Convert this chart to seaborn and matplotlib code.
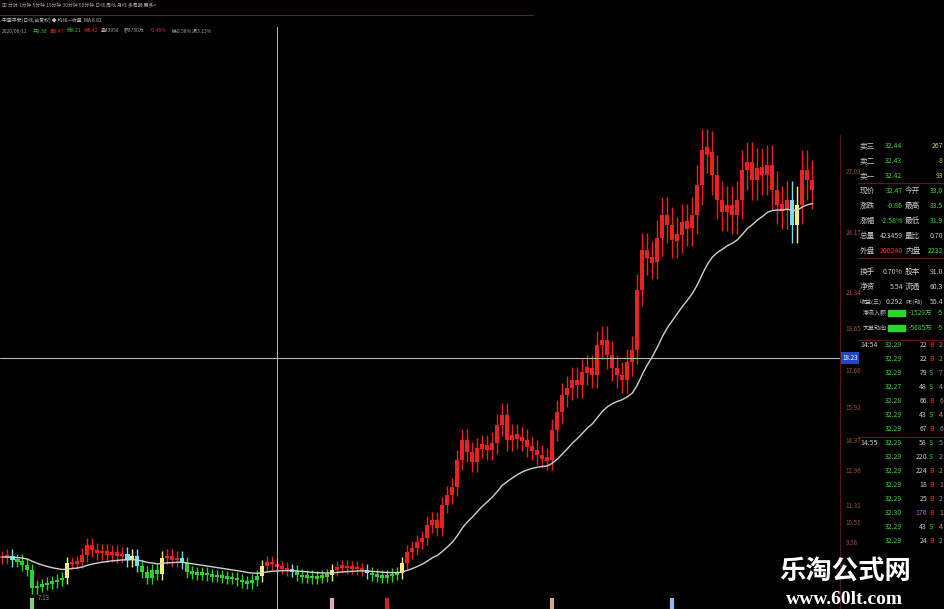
import numpy as np
import pandas as pd
import matplotlib
matplotlib.use("Agg")
import matplotlib.pyplot as plt
from matplotlib.lines import Line2D
import seaborn as sns

# daily closes, left to right
closes = [8.85, 8.90, 8.71, 8.67, 8.48, 8.24,
          7.39, 7.49, 7.54, 7.63, 7.68, 7.77, 7.86,
          8.57, 8.57, 8.62, 8.95, 9.42, 9.18, 9.04,
          9.14, 8.95, 9.09, 8.90, 9.00, 8.71, 8.90, 8.43,
          8.15, 7.86, 8.24, 8.06, 8.81,
          8.90, 8.71, 8.81, 8.57,
          8.15, 8.10, 8.06, 8.10, 8.01, 7.96, 7.96, 7.91, 7.86, 7.86, 7.77, 7.68, 7.63, 7.77, 7.96,
          8.43, 8.62, 8.52, 8.39, 8.34, 8.24, 8.20,
          8.01, 7.91, 7.96, 7.86, 7.91, 7.96, 8.01, 8.24,
          8.39, 8.43, 8.34, 8.39, 8.29, 8.24,
          8.10, 8.01, 7.96, 7.91, 7.96, 8.06, 8.10,
          8.57, 9.09, 9.28, 9.56, 9.75, 10.36, 10.60, 10.22,
          11.31, 11.78, 12.15, 13.43, 14.37, 13.80, 13.33,
          13.99, 14.13, 13.90, 14.23, 15.08, 15.55, 14.37,
          14.60, 14.46, 14.37, 14.04, 13.90, 13.66, 13.52, 13.43,
          14.84, 15.69, 16.49, 16.82, 17.20, 16.96, 17.57, 17.76, 17.43,
          18.85, 19.08, 18.37, 17.76, 17.43, 17.20, 18.04, 18.61,
          21.44, 23.32, 22.95, 22.76, 23.89, 24.97, 24.50, 23.80, 24.03,
          24.64, 24.36, 24.97, 26.39, 28.04, 27.94, 26.86,
          25.68, 25.11, 25.45, 24.97, 25.68, 27.09, 27.47, 26.62,
          27.19, 26.86, 27.33, 26.15, 25.45, 25.21, 25.68, 24.50,
          25.45, 27.09, 26.62, 26.15]

# price labels on the right scale
price_ticks = [27.03, 24.17, 21.34, 19.65, 17.66, 15.92, 14.37, 12.96, 11.31, 10.51, 9.56]
cross_price = 18.23
cross_bar = 55

# event markers at the bottom edge
marker_bars = [6, 66, 77, 110, 134]
marker_colors = ["#7fd07f", "#e0a8b8", "#d02020", "#d8a880", "#98b8e8"]

# order book / quote panel
ask_labels = ["卖三", "卖二", "卖一"]
ask_prices = ["32.44", "32.43", "32.42"]
ask_vols = ["267", "8", "93"]
stat_rows = [("现价", "32.47", "今开", "33.0"), ("涨跌", "-0.86", "最高", "33.5"),
             ("涨幅", "-2.58%", "最低", "31.9"), ("总量", "423459", "量比", "0.70"),
             ("外盘", "200240", "内盘", "2232"), ("换手", "0.70%", "股本", "91.0"),
             ("净资", "5.54", "流通", "60.3"), ("收益(三)", "0.292", "PE(动)", "55.4")]
flow_labels = ["净流入额", "大单动向"]
flow_values = ["-1529万", "-5685万"]
tick_times = ["14:54", "", "", "", "", "", "", "14:55", "", "", "", "", "", "", ""]
tick_prices = ["32.29", "32.29", "32.29", "32.27", "32.28", "32.29", "32.29", "32.29",
               "32.29", "32.29", "32.29", "32.29", "32.30", "32.29", "32.29"]
tick_vols = ["22", "22", "79", "48", "66", "43", "67", "58", "220", "224", "18", "25", "176", "43", "24"]
tick_sides = ["B", "B", "S", "S", "B", "S", "B", "S", "S", "B", "B", "B", "B", "S", "B"]

sns.set_theme(style="dark", rc={"axes.facecolor": "black", "figure.facecolor": "black"})
plt.rcParams["font.family"] = ["Noto Sans CJK SC", "DejaVu Sans"]

W, H = 945, 609
def px(x, y):
    return x / W, 1 - y / H

df = pd.DataFrame({"i": np.arange(len(closes)), "close": closes})
df["open"] = df["close"].shift(1).fillna(df["close"].iloc[0])
df["high"] = df[["open", "close"]].max(axis=1) * 1.035
df["low"] = df[["open", "close"]].min(axis=1) * 0.965
df["ma"] = df["close"].ewm(span=24, adjust=False).mean()
above = df["close"] >= df["ma"]
prev = above.shift(1).fillna(above.iloc[0])
df["color"] = np.where(above, "#e82222", "#2fcf2f")
df.loc[above & ~prev, "color"] = "#f4ee80"
df.loc[~above & prev, "color"] = "#70e0e8"

fig = plt.figure(figsize=(9.45, 6.09), dpi=100, facecolor="black")
ax = fig.add_axes([0, 0, 840 / W, 1])
ax.set_facecolor("black")

body_h = (df["close"] - df["open"]).abs().clip(lower=df["close"] * 0.014)
body_bottom = (df["open"] + df["close"]) / 2 - body_h / 2
ax.vlines(df["i"], df["low"], df["high"], colors=df["color"], lw=1.0)
ax.bar(df["i"], body_h, bottom=body_bottom, width=0.8, color=df["color"], lw=0)
sns.lineplot(x=df["i"], y=df["ma"], ax=ax, color="#d0d0d0", lw=1.0)

low_i = df["low"].idxmin()
ax.text(low_i + 1, df["low"].min(), f"{df['low'].min():.2f}", color="#909090",
        fontsize=4.5, va="top")

ax.vlines(marker_bars, 6.40, 6.90, colors=marker_colors, lw=3)

ax.axvline(cross_bar, ymax=1 - 27 / H, color="#b8b8b8", lw=0.7)
ax.axhline(cross_price, color="#b8b8b8", lw=0.8)

ax.set_xlim(-0.5, (840 - 2.5) / 5)
ax.set_ylim(6.404, 35.106)
ax.set_xticks([])
ax.yaxis.tick_right()
ax.set_yticks(price_ticks)
ax.set_yticklabels([f"{v:.2f}" for v in price_ticks])
ax.tick_params(axis="y", colors="#a84848", labelsize=4.5, length=0, pad=4)
ax.set_xlabel("")
ax.set_ylabel("")
for s in ax.spines.values():
    s.set_visible(False)

# crosshair value box
fig.text(*px(850, 358), f"{cross_price:.2f}", color="white", fontsize=4.5,
         ha="center", va="center",
         bbox=dict(boxstyle="square,pad=0.25", fc="#2343c8", ec="none"))

# header rows
fig.add_artist(Line2D([0, 533 / W], [1 - 15 / H] * 2, color="#6a1a1a", lw=0.8))
fig.text(*px(2, 6), "▣ 分时 1分钟 5分钟 15分钟 30分钟 60分钟 日线 周线 月线 多周期 更多>",
         color="#a0a0a0", fontsize=3.5, va="center")
fig.text(*px(2, 20), "中国平安(日线,前复权) ◆ 均线—收盘  MA 8.82", color="#c0c0c0",
         fontsize=3.5, va="center")
row3 = [(2, "2020/06/12", "#a0a0a0"), (33, "开8.30", "#3cc83c"), (50, "高8.47", "#e03030"),
        (67, "低8.21", "#3cc83c"), (84, "收8.42", "#e03030"), (101, "量43958", "#a0a0a0"),
        (124, "额3730万", "#a0a0a0"), (150, "+1.45%", "#e03030"),
        (172, "换0.58% 振3.13%", "#a0a0a0")]
for x, t, c in row3:
    fig.text(*px(x, 31), t, color=c, fontsize=3.5, va="center")

# right panel
fig.add_artist(Line2D([840 / W] * 2, [0, 1 - 135 / H], color="#5a1414", lw=0.8))
for y in [183, 258, 340, 437]:
    fig.add_artist(Line2D([858 / W, 1], [1 - y / H] * 2, color="#5a1a1a", lw=0.8))

lab_c, green, red = "#c8c8c8", "#3cd23c", "#e83030"
for k, (a, p, v) in enumerate(zip(ask_labels, ask_prices, ask_vols)):
    y = 146 + 15 * k
    fig.text(*px(860, y), a, color=lab_c, fontsize=5.5, va="center")
    fig.text(*px(902, y), p, color=green, fontsize=5, va="center", ha="right")
    fig.text(*px(943, y), v, color="#d8c060", fontsize=5, va="center", ha="right")

for k, (l1, v1, l2, v2) in enumerate(stat_rows):
    y = 191 + 15 * k + (6 if k >= 5 else 0)
    c1 = red if k == 4 else (green if v1.startswith("-") or k < 3 else lab_c)
    c2 = green if k in (0, 1, 2, 4) else lab_c
    fig.text(*px(860, y), l1, color=lab_c, fontsize=5.5 if len(l1) == 2 else 4.3, va="center")
    fig.text(*px(903, y), v1, color=c1, fontsize=5, va="center", ha="right")
    fig.text(*px(905, y), l2, color=lab_c, fontsize=5.5 if len(l2) == 2 else 4.3, va="center")
    fig.text(*px(943, y), v2, color=c2, fontsize=5, va="center", ha="right")

for k, (l, v) in enumerate(zip(flow_labels, flow_values)):
    y = 313 + 15 * k
    fig.text(*px(863, y), l, color=lab_c, fontsize=4.3, va="center")
    fig.patches.append(plt.Rectangle(px(888, y + 3), 17 / W, 6 / H, color="#2fd22f",
                                     transform=fig.transFigure))
    fig.text(*px(932, y), v, color=green, fontsize=4.8, va="center", ha="right")
    fig.text(*px(943, y), "-5", color=green, fontsize=4.8, va="center", ha="right")

for k in range(len(tick_prices)):
    y = 345 + 14 * k
    if tick_times[k]:
        fig.text(*px(860, y), tick_times[k], color=lab_c, fontsize=5, va="center")
    fig.text(*px(902, y), tick_prices[k], color=green, fontsize=5, va="center", ha="right")
    vc = "#b060e0" if k == 12 else lab_c
    fig.text(*px(927, y), tick_vols[k], color=vc, fontsize=5, va="center", ha="right")
    fig.text(*px(929, y), tick_sides[k], color=red if tick_sides[k] == "B" else green,
             fontsize=5, va="center")
    fig.text(*px(943, y), tick_vols[k][:1], color="#909090", fontsize=5, va="center", ha="right")

# watermark
fig.text(*px(845, 571), "乐淘公式网", color="white", fontsize=19, fontweight="bold",
         ha="center", va="center", family=["Noto Sans CJK SC", "DejaVu Sans"])
fig.text(*px(844, 599), "www.60lt.com", color="white", fontsize=14, fontweight="bold",
         ha="center", va="center", family="Liberation Serif")

fig.savefig("out.png", dpi=100, facecolor="black")
